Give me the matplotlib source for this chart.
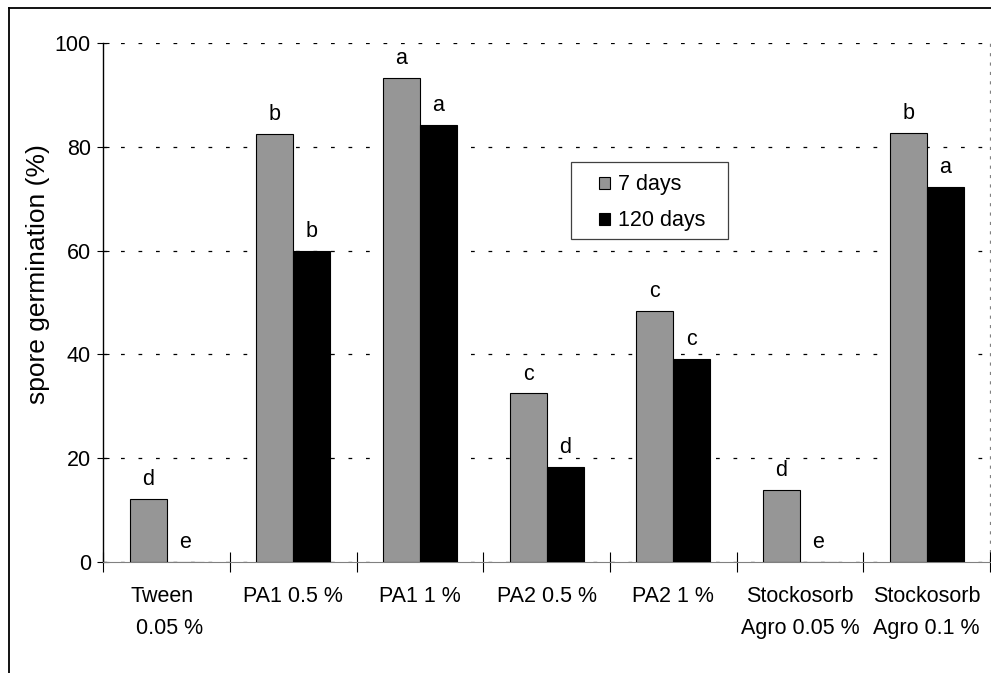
import matplotlib
matplotlib.use("Agg")
import matplotlib.pyplot as plt
import numpy as np
from matplotlib.patches import Patch, Rectangle
from matplotlib.lines import Line2D

plt.rcParams['font.family'] = ['Liberation Sans', 'DejaVu Sans']

categories = ["Tween\n 0.05 %", "PA1 0.5 %", "PA1 1 %", "PA2 0.5 %", "PA2 1 %",
              "Stockosorb\nAgro 0.05 %", "Stockosorb\nAgro 0.1 %"]
days7 = [12.2, 82.5, 93.3, 32.5, 48.4, 13.9, 82.6]
days120 = [0, 60.0, 84.1, 18.4, 39.2, 0, 72.2]
letters7 = ["d", "b", "a", "c", "c", "d", "b"]
letters120 = ["e", "b", "a", "d", "c", "e", "a"]
series_names = ["7 days", "120 days"]

W, H = 991, 673
fig = plt.figure(figsize=(W / 100, H / 100), dpi=100)
ax = fig.add_axes([103.3 / W, 1 - 562.3 / H, (990 - 103.3) / W, (562.3 - 42.7) / H])

x = np.arange(len(categories))
bw = 0.292
gray = "#969696"

# Grid lines
for yv in [0, 20, 40, 60, 80, 100]:
    ax.axhline(yv, color="black", lw=0.9, dashes=(3.0, 11.0), zorder=1)

b1 = ax.bar(x - bw / 2, days7, bw, color=gray, edgecolor="black", linewidth=0.8, zorder=3)
b2 = ax.bar(x + bw / 2, days120, bw, color="black", edgecolor="black", linewidth=0.8, zorder=3)

for xi, v, t in zip(x - bw / 2, days7, letters7):
    ax.annotate(t, (xi, v), xytext=(0, 10), textcoords="offset points",
                ha="center", va="baseline", fontsize=15.5)
for xi, v, t in zip(x + bw / 2, days120, letters120):
    ax.annotate(t, (xi, v), xytext=(0, 10), textcoords="offset points",
                ha="center", va="baseline", fontsize=15.5)

ax.set_xlim(-0.5, len(categories) - 0.5)
ax.set_ylim(0, 100)

ax.set_yticks([0, 20, 40, 60, 80, 100])
ax.tick_params(axis="y", direction="inout", length=8, width=0.8, labelsize=15.5, pad=5)

ax.set_xticks(np.arange(len(categories) + 1) - 0.5)
ax.set_xticklabels([])
ax.set_xticks(x, minor=True)
ax.set_xticklabels(categories, minor=True, fontsize=15.5, linespacing=1.7)
for lab in ax.get_xticklabels(minor=True):
    lab.set_multialignment("left" if lab.get_text().startswith("Tween") else "center")
ax.tick_params(axis="x", which="major", direction="inout", length=14, width=0.8)
ax.tick_params(axis="x", which="minor", length=0, pad=17)

for s in ["top", "right"]:
    ax.spines[s].set_visible(False)
ax.spines["left"].set_linewidth(1.0)
ax.spines["bottom"].set_color("#808080")
ax.spines["bottom"].set_linewidth(0.8)
ax.axvline(len(categories) - 0.5, color="#808080", lw=0.9, dashes=(2.5, 5.0), zorder=1, clip_on=False)

ax.text(-0.0736, 0.555, "spore germination (%)", rotation=90, ha="center", va="center",
        fontsize=19, transform=ax.transAxes)

# Legend
handles = [Patch(facecolor=gray, edgecolor="black", linewidth=0.8),
           Patch(facecolor="black", edgecolor="black", linewidth=0.8)]
fig.legend(handles, series_names, loc="center left", bbox_to_anchor=(599 / W, 1 - 202.9 / H),
           frameon=False, fontsize=15.5, handlelength=0.5, handleheight=0.5,
           handletextpad=0.4, labelspacing=0.7, borderpad=0, borderaxespad=0)
fig.patches.append(Rectangle((570.7 / W, 1 - 239 / H), (728 - 570.7) / W, (239 - 161.7) / H,
                             transform=fig.transFigure, fill=False, edgecolor="#404040", lw=0.9))

# Outer border (cropped on right and bottom)
fig.lines.append(Line2D([9 / W, 9 / W], [0, 1 - 8 / H], transform=fig.transFigure, color="black", lw=1.3))
fig.lines.append(Line2D([9 / W, 1], [1 - 8 / H, 1 - 8 / H], transform=fig.transFigure, color="black", lw=1.3))

fig.savefig("out.png", dpi=100)
